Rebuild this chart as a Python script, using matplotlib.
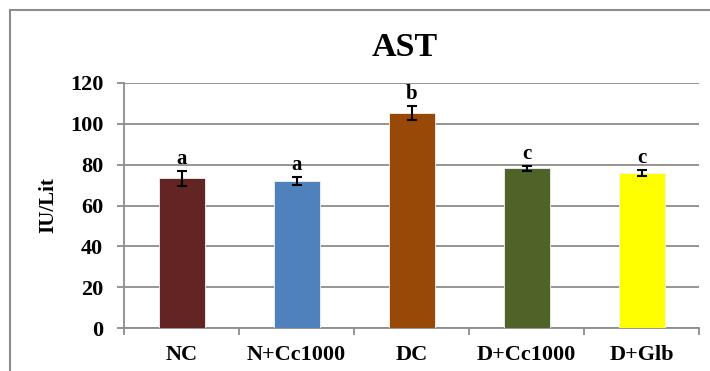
import numpy as np
import matplotlib
matplotlib.use('Agg')
import matplotlib.pyplot as plt
from matplotlib.lines import Line2D

groups = ['NC', 'N+Cc1000', 'DC', 'D+Cc1000', 'D+Glb']
ast_means = [73.3, 72.0, 105.3, 78.3, 75.9]
ast_errors = [3.6, 1.9, 3.3, 1.2, 1.3]
sig_letters = ['a', 'a', 'b', 'c', 'c']
bar_colors = ['#632523', '#4F81BD', '#984807', '#4F6228', '#FFFF00']
y_ticks = [0, 20, 40, 60, 80, 100, 120]

plt.rcParams['font.family'] = ['Liberation Serif', 'DejaVu Serif']
plt.rcParams['font.weight'] = 'bold'

W, H = 710, 371
fig = plt.figure(figsize=(W / 100, H / 100), dpi=100)
ax = fig.add_axes([124 / W, 1 - 328.3 / H, 575 / W, (328.3 - 82.7) / H])

grid_col = '#8C8C8C'
x = np.arange(len(groups))
ax.bar(x, ast_means, width=0.4, color=bar_colors, edgecolor='#F2F2F2',
       linewidth=0.6, zorder=3)
ax.errorbar(x, ast_means, yerr=ast_errors, fmt='none', ecolor='black',
            elinewidth=1.5, capsize=3.5, capthick=1.5, zorder=4)

for xi, m, e, s in zip(x, ast_means, ast_errors, sig_letters):
    ax.annotate(s, (xi, m + e), xytext=(0, 5), textcoords='offset points',
                ha='center', va='baseline', fontsize=15, fontweight='bold')

ax.set_xlim(-0.5, len(groups) - 0.5)
ax.set_ylim(0, 120)
ax.set_yticks(y_ticks)
ax.set_yticklabels([str(v) for v in y_ticks], fontsize=16, fontweight='bold')
ax.yaxis.grid(True, color=grid_col, linewidth=1.3, zorder=0)
ax.set_axisbelow(True)

ax.set_xticks(x)
ax.set_xticklabels(groups, fontsize=16, fontweight='bold')
ax.set_xticks(np.arange(-0.5, len(groups), 1.0), minor=True)
ax.tick_params(axis='x', which='major', length=0, pad=12)
ax.tick_params(axis='x', which='minor', length=5, width=1.3, color=grid_col)
ax.tick_params(axis='y', length=5, width=1.3, color=grid_col, pad=10)

for side in ['top', 'right']:
    ax.spines[side].set_visible(False)
for side in ['left', 'bottom']:
    ax.spines[side].set_color(grid_col)
    ax.spines[side].set_linewidth(1.3)

fig.text(405 / W, 1 - 47 / H, 'AST', ha='center', va='center',
         fontsize=24.5, fontweight='bold')
fig.text(48 / W, 1 - 205.5 / H, 'IU/Lit', ha='center', va='center',
         rotation=90, fontsize=15, fontweight='bold')

# outer chart frame (only top and left edges visible in the crop)
fig.add_artist(Line2D([10 / W, 1], [1 - 10 / H, 1 - 10 / H],
                      transform=fig.transFigure, color='#8C8C8C', linewidth=1.5))
fig.add_artist(Line2D([10 / W, 10 / W], [0, 1 - 10 / H],
                      transform=fig.transFigure, color='#8C8C8C', linewidth=1.5))

fig.savefig('out.png', dpi=100)
